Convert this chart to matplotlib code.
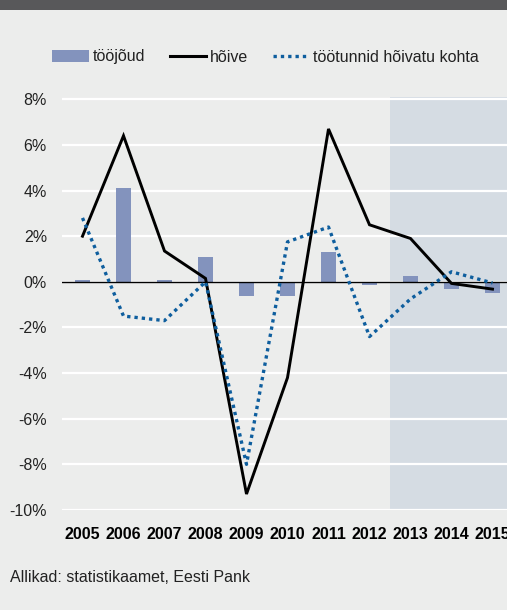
import matplotlib
matplotlib.use("Agg")
import matplotlib.pyplot as plt
from matplotlib.patches import Patch, Rectangle
from matplotlib.lines import Line2D
import numpy as np

plt.rcParams['font.family'] = ['Liberation Sans', 'DejaVu Sans']

years = ["2005", "2006", "2007", "2008", "2009", "2010", "2011", "2012", "2013", "2014", "2015"]
toojoud = [0.1, 4.1, 0.1, 1.1, -0.6, -0.6, 1.3, -0.13, 0.26, -0.3, -0.5]
hoive = [2.0, 6.4, 1.35, 0.15, -9.3, -4.2, 6.7, 2.5, 1.9, -0.07, -0.32]
tootunnid = [2.8, -1.5, -1.7, 0.0, -8.0, 1.75, 2.4, -2.4, -0.75, 0.44, -0.05]
yticks = [8, 6, 4, 2, 0, -2, -4, -6, -8, -10]
forecast_start = 8  # index of 2013

bg = "#ECEDEC"
W, H = 507, 610
fig = plt.figure(figsize=(W/100, H/100), dpi=100, facecolor=bg)

# top dark band
fig.patches.append(Rectangle((0, 1 - 10/H), 1, 10/H, transform=fig.transFigure,
                             facecolor="#58585A", edgecolor="none"))

ax = fig.add_axes([62/W, 1 - 510/H, 451/W, 413/H])
ax.set_facecolor(bg)
x = np.arange(len(years))
ax.set_xlim(-0.5, len(years) - 0.5)
ax.set_ylim(-10, 8.1)

ax.axvspan(forecast_start - 0.5, len(years) - 0.5, color="#D5DCE3", zorder=0, lw=0)
for t in yticks:
    ax.axhline(t, color="white", lw=1.6, zorder=1)

ax.bar(x, toojoud, width=0.39, color="#8393BD", zorder=2)
ax.axhline(0, color="black", lw=1.0, zorder=3)
ax.plot(x, hoive, color="black", lw=2.1, zorder=4, solid_joinstyle="miter")
ax.plot(x, tootunnid, color="#0E5E9E", lw=2.4, linestyle=(0, (1, 1.2)), zorder=5)

ax.set_yticks(yticks)
ax.set_yticklabels([f"{t}%" for t in yticks], fontsize=11.5, color="#222222")
ax.set_xticks(x)
ax.set_xticklabels(years, fontsize=11.5, fontweight="bold", color="black")
ax.tick_params(axis="both", length=0)
ax.tick_params(axis="y", pad=10.8)
ax.tick_params(axis="x", pad=12.5)
for s in ax.spines.values():
    s.set_visible(False)

handles = [Patch(facecolor="#8393BD", edgecolor="none"),
           Line2D([], [], color="black", lw=2.2),
           Line2D([], [], color="#0E5E9E", lw=2.4, linestyle=(0, (1, 1.2)))]
labels = ["tööjõud", "hõive", "töötunnid hõivatu kohta"]
fig.legend(handles, labels, loc="center left", bbox_to_anchor=(38/W, 1 - 57/H),
           ncol=3, frameon=False, fontsize=11.5, handlelength=2.3, handleheight=0.7,
           handletextpad=0.25, columnspacing=1.5, labelcolor="#222222")

fig.text(10/W, 1 - 578/H, "Allikad: statistikaamet, Eesti Pank", fontsize=11.5,
         color="#222222", va="center", ha="left")

fig.savefig("out.png", dpi=100, facecolor=bg)
